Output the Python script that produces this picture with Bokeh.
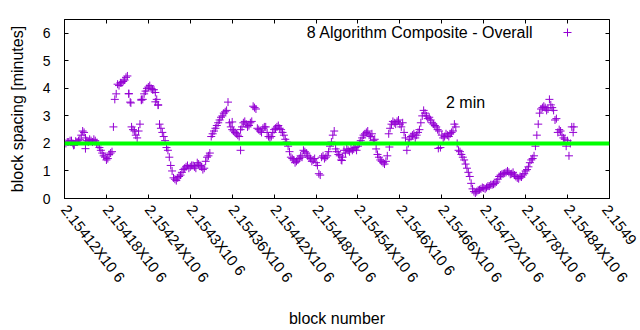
import math
from bokeh.plotting import figure
from bokeh.models import (FixedTicker, Span, Label, Legend, LegendItem, LinearAxis,
                          Range1d, ColumnDataSource)
from bokeh.embed import file_html
from bokeh.resources import INLINE

# ---------------- data ----------------
blocks_a = list(range(2154124, 2154852, 4))
spacing_a = [
    2.05, 2.1, 2.0, 2.08, 2.1, 2.3, 2.4, 2.1, 2.15, 2.05,
    2.1, 1.95, 1.75, 1.55, 1.4, 1.6, 1.7, 3.6, 4.15, 4.2,
    4.25, 4.4, 3.8, 2.6, 2.45, 2.2, 2.7, 3.6, 3.9, 4.05,
    4.0, 3.95, 3.6, 2.7, 2.4, 2.1, 1.75, 1.2, 0.75, 0.65,
    0.8, 0.95, 1.1, 1.2, 1.15, 1.2, 1.1, 1.25, 1.15, 1.1,
    1.5, 1.65, 2.35, 2.55, 2.75, 2.95, 3.1, 3.2, 2.75, 2.5,
    2.4, 2.3, 2.5, 2.75, 2.7, 2.65, 2.8, 3.3, 2.55, 2.45,
    2.55, 2.6, 2.25, 2.25, 2.5, 2.6, 2.55, 2.4, 2.15, 1.9,
    1.5, 1.4, 1.35, 1.45, 1.5, 1.7, 1.55, 1.45, 1.4, 1.3,
    0.9, 1.5, 1.45, 1.55, 1.9, 2.3, 1.8, 1.6, 1.4, 1.75,
    1.8, 1.7, 1.75, 1.85, 1.9, 2.1, 2.3, 2.4, 2.3, 2.35,
    2.15, 1.6, 1.4, 1.3, 1.35, 2.35, 2.7, 2.75, 2.8, 2.7,
    2.75, 2.2, 2.0, 2.25, 2.35, 2.3, 2.5, 3.0, 3.1, 2.9,
    2.85, 2.7, 2.6, 2.45, 2.3, 2.25, 2.3, 2.35, 2.45, 2.6,
    1.75, 1.6, 1.4, 1.1, 0.8, 0.35, 0.2, 0.3, 0.35, 0.38,
    0.4, 0.45, 0.5, 0.55, 0.7, 0.85, 0.9, 0.95, 0.95, 0.9,
    0.85, 0.75, 0.8, 0.85, 1.0, 1.15, 1.4, 1.55, 2.3, 3.1,
    3.3, 3.3, 3.25, 3.4, 3.2, 2.9, 2.5, 2.3, 2.15, 2.1,
    2.0, 2.4,
]
blocks_b = list(range(2154122, 2154850, 4))
spacing_b = [
    2.0, 2.05, 2.1, 1.95, 2.05, 2.15, 2.45, 2.2, 2.05, 2.1,
    2.15, 2.0, 1.85, 1.65, 1.5, 1.45, 1.65, 2.6, 3.8, 4.1,
    4.2, 4.3, 4.45, 3.5, 2.5, 2.3, 2.45, 3.6, 3.8, 4.0,
    4.1, 3.95, 3.85, 3.4, 2.55, 2.25, 1.85, 1.5, 1.0, 0.7,
    0.75, 0.85, 1.05, 1.15, 1.1, 1.2, 1.15, 1.3, 1.2, 1.05,
    1.35, 1.55, 2.25, 2.45, 2.65, 2.85, 3.0, 3.15, 3.5, 2.6,
    2.45, 2.35, 2.25, 2.6, 2.8, 2.6, 2.75, 3.35, 3.25, 2.5,
    2.4, 2.6, 2.4, 2.2, 2.4, 2.55, 2.65, 2.5, 2.3, 2.05,
    1.7, 1.45, 1.3, 1.4, 1.55, 1.75, 1.65, 1.5, 1.35, 1.45,
    1.2, 0.85, 1.55, 1.5, 1.7, 2.05, 2.45, 1.7, 1.55, 1.5,
    1.65, 1.75, 1.8, 1.8, 1.75, 2.0, 2.2, 2.35, 2.45, 2.25,
    2.1, 1.8, 1.5, 1.35, 1.25, 1.55, 2.55, 2.8, 2.7, 2.85,
    2.6, 2.4, 1.75, 2.15, 2.3, 2.2, 2.4, 2.75, 3.2, 3.0,
    2.95, 2.75, 2.65, 2.5, 1.85, 2.2, 2.35, 2.25, 2.4, 2.7,
    2.0, 1.7, 1.5, 1.25, 0.95, 0.55, 0.25, 0.25, 0.32, 0.4,
    0.35, 0.45, 0.5, 0.52, 0.6, 0.8, 0.88, 0.92, 1.0, 0.88,
    0.95, 0.8, 0.72, 0.78, 0.9, 1.05, 1.3, 1.45, 1.9, 2.7,
    3.25, 3.35, 3.2, 3.6, 3.3, 2.85, 2.4, 2.45, 2.2, 1.9,
    1.55, 2.6,
]
extra_blocks = [2154133, 2154150, 2154212, 2154215, 2154230, 2154250, 2154254,
                2154360, 2154372, 2154517, 2154585, 2154655, 2154849]
extra_spacing = [1.93, 1.81, 3.81, 3.47, 3.57, 3.51, 3.39,
                 2.78, 1.75, 1.38, 1.87, 1.82, 2.6]

x_ticks = [2154120, 2154180, 2154240, 2154300, 2154360, 2154420, 2154480,
           2154540, 2154600, 2154660, 2154720, 2154780, 2154840, 2154900]
# the last label is cut by the right edge of the reference picture
x_tick_labels = ["2.15412X10 6", "2.15418X10 6", "2.15424X10 6",
                 "2.1543X10 6", "2.15436X10 6", "2.15442X10 6",
                 "2.15448X10 6", "2.15454X10 6", "2.1546X10 6",
                 "2.15466X10 6", "2.15472X10 6", "2.15478X10 6",
                 "2.15484X10 6", "2.1549"]
y_ticks = [0, 1, 2, 3, 4, 5, 6]
target_minutes = 2
series_name = "8 Algorithm Composite - Overall"

# ---------------- figure ----------------
FONT = "Liberation Sans"
PURPLE = "#9400D3"

p = figure(width=640, height=330, output_backend="svg", toolbar_location=None,
           x_range=Range1d(x_ticks[0], x_ticks[-1]), y_range=Range1d(0, 6.5),
           min_border_left=64, min_border_right=31, min_border_top=19,
           min_border_bottom=132)
p.background_fill_color = "white"
p.border_fill_color = "white"
p.outline_line_color = "black"
p.outline_line_width = 1
p.grid.visible = False

src = ColumnDataSource(dict(x=blocks_a + blocks_b + extra_blocks,
                            y=spacing_a + spacing_b + extra_spacing))
r = p.scatter("x", "y", source=src, marker="cross", size=8,
              line_color=PURPLE, line_width=1)

p.add_layout(Span(location=target_minutes, dimension="width",
                  line_color="#00FF00", line_width=4))

# axes
xa = p.xaxis[0]
xa.ticker = FixedTicker(ticks=x_ticks)
xa.major_label_overrides = {t: s for t, s in zip(x_ticks, x_tick_labels)}
xa.major_label_orientation = -52 * math.pi / 180
xa.axis_label = "block number"
ya = p.yaxis[0]
ya.ticker = FixedTicker(ticks=y_ticks)
ya.axis_label = "block spacing [minutes]"
for ax in (xa, ya):
    ax.major_tick_in = 4
    ax.major_tick_out = 0
    ax.minor_tick_in = 0
    ax.minor_tick_out = 0
    ax.axis_line_color = "black"
    ax.major_label_text_font = FONT
    ax.major_label_text_color = "black"
    ax.axis_label_text_font = FONT
    ax.axis_label_text_font_size = "16px"
    ax.axis_label_text_font_style = "normal"
    ax.axis_label_text_color = "black"
xa.major_label_text_font_size = "15px"
ya.major_label_text_font_size = "14px"
xa.major_label_standoff = 8
xa.axis_label_standoff = 16
ya.major_label_standoff = 14
ya.axis_label_standoff = 14

# mirror ticks (inside) on top and right, without labels
for side in ("right", "above"):
    ticks = y_ticks if side == "right" else x_ticks
    ax = LinearAxis()
    ax.ticker = FixedTicker(ticks=ticks)
    ax.major_label_overrides = {t: "" for t in ticks}
    ax.major_tick_in = 4
    ax.major_tick_out = 0
    ax.minor_tick_in = 0
    ax.minor_tick_out = 0
    ax.major_label_standoff = 0
    ax.axis_line_color = None
    p.add_layout(ax, side)

# "2 min" label
p.add_layout(Label(x=2154666, y=3.5, text="2 min", text_font=FONT,
                   text_font_size="16px", text_align="left",
                   text_baseline="middle", text_color="black"))

# key (gnuplot style: text then sample on the right)
p.add_layout(Label(x=469, y=166, x_units="screen", y_units="screen",
                   text=series_name, text_font=FONT, text_font_size="16px",
                   text_align="right", text_baseline="middle",
                   text_color="black"))
legend = Legend(items=[LegendItem(label=" ", renderers=[r])],
                location=(493, 156), padding=0, margin=0, spacing=0,
                border_line_color=None, background_fill_alpha=0,
                glyph_width=20, glyph_height=20, label_standoff=0,
                label_width=0, label_text_font=FONT, label_text_font_size="16px")
p.add_layout(legend)

open("out.html", "w").write(file_html(p, INLINE))
